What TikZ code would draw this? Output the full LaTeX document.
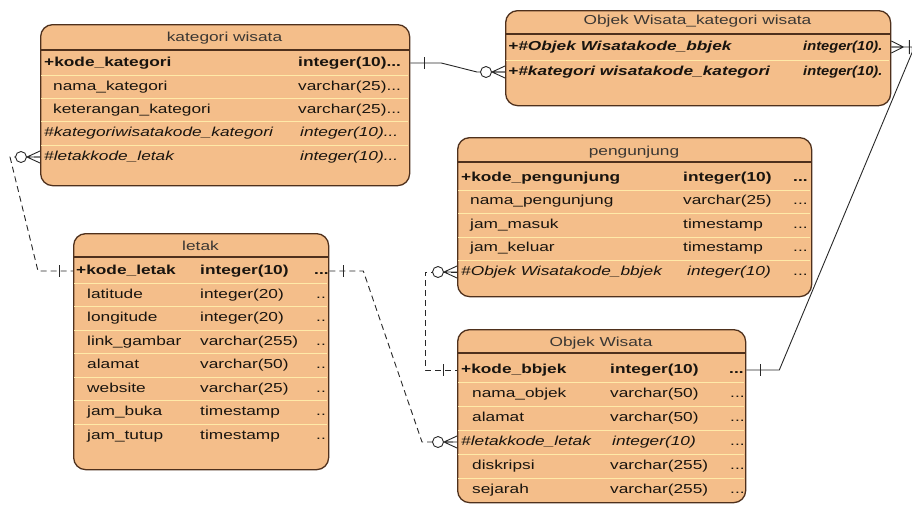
\documentclass[tikz,border=0pt]{standalone}
\usepackage{fontspec}
\setmainfont{Liberation Sans}[FakeStretch=1.33]
\usetikzlibrary{calc}
\definecolor{entfill}{RGB}{244,190,138}
\definecolor{entborder}{RGB}{78,48,28}
\definecolor{rowline}{RGB}{255,234,168}
\definecolor{conn}{RGB}{40,40,40}
\definecolor{txt}{RGB}{25,20,15}
\begin{document}
\begin{tikzpicture}[x=1pt,y=-1pt,
  font=\fontsize{13}{15}\selectfont,
  entity/.style={draw=entborder, line width=1.3pt, fill=entfill, rounded corners=12pt, anchor=north west, inner sep=0pt},
  title/.style={text=txt!85, inner sep=0pt, text height=10pt, text depth=3pt},
  cell/.style={anchor=west, inner sep=0pt, text=txt, text height=10pt, text depth=3pt},
  hsep/.style={draw=entborder, line width=1.2pt},
  rsep/.style={draw=rowline, line width=1pt},
  link/.style={draw=conn, line width=0.9pt},
  optlink/.style={link, dash pattern=on 6pt off 4pt},
  one/.pic={\draw[link] (-14,-6) -- (-14,6);},
  zmany/.pic={\draw[link] (-13,0) -- (0,-6) (-13,0) -- (0,0) (-13,0) -- (0,6);
              \draw[link, fill=white] (-19,0) circle (5.5pt);},
  mmany/.pic={\draw[link] (-12,0) -- (0,-6) (-12,0) -- (0,0) (-12,0) -- (0,6) (-18,-7) -- (-18,7);}
]
\useasboundingbox (0,0) rectangle (912,504);

% ---------- kategori wisata ----------
\node[entity, minimum width=369pt, minimum height=161pt] (kat) at (40,24) {};
\node[title] (katt) at (224.5,38) {kategori wisata};
\draw[hsep] (40,50) -- (409,50);
\foreach \y in {75,98,121,145} \draw[rsep] (41,\y) -- (408,\y);
\node[cell] (k1) at (44,63) {\textbf{+kode\_kategori}};
\node[cell] (k1t) at (298,63) {\textbf{integer(10)...}};
\node[cell] (k2) at (53,87) {nama\_kategori};
\node[cell] (k2t) at (298,87) {varchar(25)...};
\node[cell] (k3) at (53,110) {keterangan\_kategori};
\node[cell] (k3t) at (298,110) {varchar(25)...};
\node[cell] (k4) at (44,133) {\textit{\#kategoriwisatakode\_kategori}};
\node[cell] (k4t) at (300,133) {\textit{integer(10)...}};
\node[cell] (k5) at (44,157) {\textit{\#letakkode\_letak}};
\node[cell] (k5t) at (300,157) {\textit{integer(10)...}};

% ---------- Objek Wisata_kategori wisata ----------
\node[entity, minimum width=385pt, minimum height=95pt] (owk) at (505,10) {};
\node[title] (owkt) at (697.5,21) {Objek Wisata\_kategori wisata};
\draw[hsep] (505,34) -- (890,34);
\draw[rsep] (506,60) -- (889,60);
\node[cell] (c1) at (508,47) {\textbf{\textit{+\#Objek Wisatakode\_bbjek}}};
\node[cell] (c1t) at (803,47) {\scalebox{0.85}[1]{\textbf{\textit{integer(10).}}}};
\node[cell] (c2) at (508,72) {\textbf{\textit{+\#kategori wisatakode\_kategori}}};
\node[cell] (c2t) at (803,72) {\scalebox{0.85}[1]{\textbf{\textit{integer(10).}}}};

% ---------- pengunjung ----------
\node[entity, minimum width=354pt, minimum height=159pt] (pen) at (457,137) {};
\node[title] (pent) at (634,152) {pengunjung};
\draw[hsep] (457,162) -- (811,162);
\foreach \y in {190,213,237,260} \draw[rsep] (458,\y) -- (810,\y);
\node[cell] (p1) at (461,178) {\textbf{+kode\_pengunjung}};
\node[cell] (p1t) at (683,178) {\textbf{integer(10)}};
\node[cell] (p1d) at (793,178) {\textbf{...}};
\node[cell] (p2) at (470,201) {nama\_pengunjung};
\node[cell] (p2t) at (683,201) {varchar(25)};
\node[cell] (p2d) at (793,201) {...};
\node[cell] (p3) at (470,225) {jam\_masuk};
\node[cell] (p3t) at (683,225) {timestamp};
\node[cell] (p3d) at (793,225) {...};
\node[cell] (p4) at (470,248) {jam\_keluar};
\node[cell] (p4t) at (683,248) {timestamp};
\node[cell] (p4d) at (793,248) {...};
\node[cell] (p5) at (461,272) {\textit{\#Objek Wisatakode\_bbjek}};
\node[cell] (p5t) at (687,272) {\textit{integer(10)}};
\node[cell] (p5d) at (793,272) {...};

% ---------- letak ----------
\node[entity, minimum width=255pt, minimum height=236pt] (let) at (73,233) {};
\node[title] (lett) at (200.5,247) {letak};
\draw[hsep] (73,257) -- (328,257);
\foreach \y in {283,306.5,330,353.5,377,400.5,424} \draw[rsep] (74,\y) -- (327,\y);
\node[cell] (l1) at (76,271) {\textbf{+kode\_letak}};
\node[cell] (l1t) at (200,271) {\textbf{integer(10)}};
\node[cell] (l1d) at (314,271) {\textbf{...}};
\node[cell] (l2) at (87,295) {latitude};
\node[cell] (l2t) at (200,295) {integer(20)};
\node[cell] (l2d) at (316,295) {..};
\node[cell] (l3) at (87,318) {longitude};
\node[cell] (l3t) at (200,318) {integer(20)};
\node[cell] (l3d) at (316,318) {..};
\node[cell] (l4) at (87,342) {link\_gambar};
\node[cell] (l4t) at (200,342) {varchar(255)};
\node[cell] (l4d) at (316,342) {..};
\node[cell] (l5) at (87,365) {alamat};
\node[cell] (l5t) at (200,365) {varchar(50)};
\node[cell] (l5d) at (316,365) {..};
\node[cell] (l6) at (87,389) {website};
\node[cell] (l6t) at (200,389) {varchar(25)};
\node[cell] (l6d) at (316,389) {..};
\node[cell] (l7) at (87,412) {jam\_buka};
\node[cell] (l7t) at (200,412) {timestamp};
\node[cell] (l7d) at (316,412) {..};
\node[cell] (l8) at (87,436) {jam\_tutup};
\node[cell] (l8t) at (200,436) {timestamp};
\node[cell] (l8d) at (316,436) {..};

% ---------- Objek Wisata ----------
\node[entity, minimum width=288pt, minimum height=173pt] (ow) at (457,329) {};
\node[title] (owt) at (601,343) {Objek Wisata};
\draw[hsep] (457,353) -- (745,353);
\foreach \y in {382,406,430,454,478} \draw[rsep] (458,\y) -- (744,\y);
\node[cell] (o1) at (461,370) {\textbf{+kode\_bbjek}};
\node[cell] (o1t) at (610,370) {\textbf{integer(10)}};
\node[cell] (o1d) at (729,370) {\textbf{...}};
\node[cell] (o2) at (472,394) {nama\_objek};
\node[cell] (o2t) at (610,394) {varchar(50)};
\node[cell] (o2d) at (730,394) {...};
\node[cell] (o3) at (472,418) {alamat};
\node[cell] (o3t) at (610,418) {varchar(50)};
\node[cell] (o3d) at (730,418) {...};
\node[cell] (o4) at (461,442) {\textit{\#letakkode\_letak}};
\node[cell] (o4t) at (612,442) {\textit{integer(10)}};
\node[cell] (o4d) at (730,442) {...};
\node[cell] (o5) at (472,466) {diskripsi};
\node[cell] (o5t) at (610,466) {varchar(255)};
\node[cell] (o5d) at (730,466) {...};
\node[cell] (o6) at (472,490) {sejarah};
\node[cell] (o6t) at (610,490) {varchar(255)};
\node[cell] (o6d) at (730,490) {...};

% ---------- connectors ----------
% kategori wisata -> Objek Wisata_kategori wisata
\draw[link] (kat.east |- k1) -- ++(31,0) -- ($(owk.west |- c2)+(-28,0)$) -- (owk.west |- c2);
\pic[xscale=-1] at (kat.east |- k1) {one};
\pic at (owk.west |- c2) {zmany};
% Objek Wisata -> Objek Wisata_kategori wisata
\draw[link] (ow.east |- o1) -- ++(33,0) -- ($(owk.east |- c1)+(21,5)$) -- ($(owk.east |- c1)+(21,0)$) -- (owk.east |- c1);
\pic[xscale=-1] at (ow.east |- o1) {one};
\pic[xscale=-1] at (owk.east |- c1) {mmany};
% letak -> kategori wisata
\draw[optlink] (kat.west |- k5) -- ++(-30,0) -- ($(let.west |- l1)+(-35,0)$) -- (let.west |- l1);
\pic at (kat.west |- k5) {zmany};
\pic at (let.west |- l1) {one};
% letak -> Objek Wisata
\draw[optlink] (let.east |- l1) -- ++(34,0) -- ($(ow.west |- o4)+(-35,0)$) -- (ow.west |- o4);
\pic[xscale=-1] at (let.east |- l1) {one};
\pic at (ow.west |- o4) {zmany};
% Objek Wisata -> pengunjung
\draw[optlink] (pen.west |- p5) -- ++(-32,0) -- ($(ow.west |- o1)+(-32,0)$) -- (ow.west |- o1);
\pic at (pen.west |- p5) {zmany};
\pic at (ow.west |- o1) {one};
\end{tikzpicture}
\end{document}
